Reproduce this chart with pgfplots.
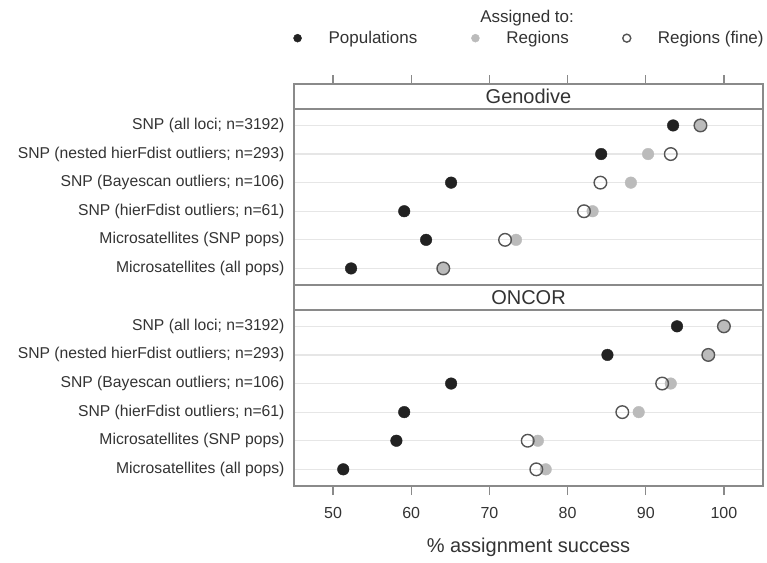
\documentclass[border=0pt]{standalone}
\usepackage{pgfplots}
\pgfplotsset{compat=1.18}
\usepackage{fontspec}
\setmainfont{Liberation Sans}
\definecolor{txt}{HTML}{333333}
\definecolor{frm}{HTML}{8A8A8A}
\definecolor{grd}{HTML}{E6E6E6}
\definecolor{popc}{HTML}{222222}
\definecolor{regc}{HTML}{BBBBBB}
\definecolor{finc}{HTML}{555555}
\begin{document}
\begin{tikzpicture}
\useasboundingbox (-294pt,-76pt) rectangle (473pt,486pt);
\begin{axis}[
  at={(0,0)}, anchor=south west,
  scale only axis, width=469pt, height=402pt,
  xmin=45, xmax=105, ymin=0, ymax=14.056, y dir=reverse,
  xtick={50,60,70,80,90,100},
  xtick pos=both, xticklabel pos=lower,
  tick align=outside, major tick length=9pt,
  ytick={1.449,2.449,3.449,4.449,5.449,6.449,8.473,9.473,10.473,11.473,12.473,13.473},
  yticklabels={SNP (all loci; n=3192),SNP (nested hierFdist outliers; n=293),SNP (Bayescan outliers; n=106),SNP (hierFdist outliers; n=61),Microsatellites (SNP pops),Microsatellites (all pops),SNP (all loci; n=3192),SNP (nested hierFdist outliers; n=293),SNP (Bayescan outliers; n=106),SNP (hierFdist outliers; n=61),Microsatellites (SNP pops),Microsatellites (all pops)},
  ytick style={draw=none},
  xtick style={draw=frm, line width=1.2pt},
  yticklabel style={font=\fontsize{15.7}{18}\selectfont, text=txt, xshift=3pt},
  xticklabel style={font=\fontsize{16}{19}\selectfont, text=txt, yshift=-9pt},
  /pgf/number format/assume math mode=true,
  xlabel={\% assignment success},
  xlabel style={font=\fontsize{20}{24}\selectfont, text=txt, yshift=-12pt},
  ymajorgrids, grid style={draw=grd, line width=1.2pt},
  axis line style={draw=frm, line width=1.3pt},
  clip=false,
  legend columns=3,
  legend style={draw=none, fill=none, at={(-0.012,1.114)}, anchor=west,
    font=\fontsize{17}{20}\selectfont, text=txt,
    /tikz/every even column/.append style={column sep=50pt}},
  legend image code/.code={\path[draw=none,fill=none] (0pt,-3pt) rectangle (35pt,3pt); \draw[#1,mark size=4pt] plot coordinates {(6pt,0pt)};},
]
\addplot[only marks, mark=*, mark size=5.8pt, mark options={fill=popc, draw=popc}] table {
x y
93.5 1.449
84.3 2.449
65.1 3.449
59.1 4.449
61.9 5.449
52.3 6.449
94.0 8.473
85.1 9.473
65.1 10.473
59.1 11.473
58.1 12.473
51.3 13.473
};
\addlegendentry{Populations}
\addplot[only marks, mark=*, mark size=5.8pt, mark options={fill=regc, draw=regc}] table {
x y
97.0 1.449
90.3 2.449
88.1 3.449
83.2 4.449
73.4 5.449
64.1 6.449
100.0 8.473
98.0 9.473
93.2 10.473
89.1 11.473
76.2 12.473
77.2 13.473
};
\addlegendentry{Regions}
\addplot[only marks, mark=o, mark size=6.3pt, mark options={draw=finc, line width=1.4pt, fill=none}] table {
x y
97.0 1.449
93.2 2.449
84.2 3.449
82.1 4.449
72.0 5.449
64.1 6.449
100.0 8.473
98.0 9.473
92.1 10.473
87.0 11.473
74.9 12.473
76.0 13.473
};
\addlegendentry{Regions (fine)}
\draw[frm, line width=1.3pt] (axis cs:45,0.874) -- (axis cs:105,0.874);
\draw[frm, line width=1.3pt] (axis cs:45,7.024) -- (axis cs:105,7.024);
\draw[frm, line width=1.3pt] (axis cs:45,7.898) -- (axis cs:105,7.898);
\node[font=\fontsize{20}{24}\selectfont, text=txt] at (axis cs:75,0.437) {Genodive};
\node[font=\fontsize{20}{24}\selectfont, text=txt] at (axis cs:75,7.461) {ONCOR};
\node[font=\fontsize{17}{20}\selectfont, text=txt] at (axis description cs:0.497,1.164) {Assigned to:};
\end{axis}
\end{tikzpicture}
\end{document}
